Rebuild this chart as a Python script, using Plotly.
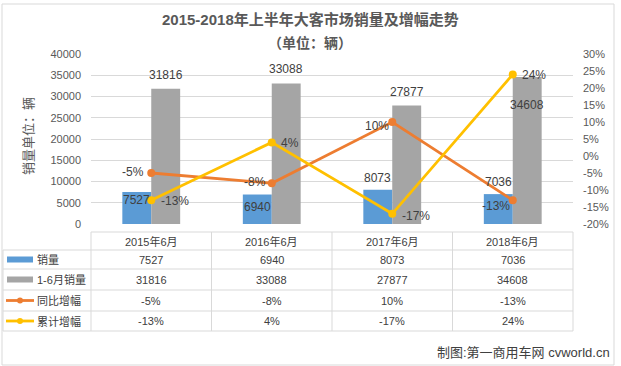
import plotly.graph_objects as go

# ---------------- data ----------------
categories = ["2015年6月", "2016年6月", "2017年6月", "2018年6月"]
sales_june = [7527, 6940, 8073, 7036]            # 销量
sales_h1 = [31816, 33088, 27877, 34608]          # 1-6月销量
yoy_growth = [-0.05, -0.08, 0.10, -0.13]          # 同比增幅
cum_growth = [-0.13, 0.04, -0.17, 0.24]           # 累计增幅
yoy_text = ["-5%", "-8%", "10%", "-13%"]
cum_text = ["-13%", "4%", "-17%", "24%"]
series_names = ["销量", "1-6月销量", "同比增幅", "累计增幅"]

left_ticks = [0, 5000, 10000, 15000, 20000, 25000, 30000, 35000, 40000]
left_ticktext = ["0", "5000", "10000", "15000", "20000", "25000", "30000", "35000", "40000"]
right_ticks = [-0.20, -0.15, -0.10, -0.05, 0.0, 0.05, 0.10, 0.15, 0.20, 0.25, 0.30]
right_ticktext = ["-20%", "-15%", "-10%", "-5%", "0%", "5%", "10%", "15%", "20%", "25%", "30%"]

title_text = "2015-2018年上半年大客市场销量及增幅走势"
subtitle_text = "（单位：辆）"
yaxis_title = "销量单位：辆"
source_text = "制图:第一商用车网 cvworld.cn"

# ---------------- style ----------------
BLUE = "#5B9BD5"
GRAY = "#A5A5A5"
ORANGE = "#ED7D31"
YELLOW = "#FFC000"
TXT = "#404040"
AX = "#595959"
GRID = "#D9D9D9"
FONT = "Liberation Sans, Noto Sans CJK SC, sans-serif"

W, H = 621, 366
L, R, T, B = 91, 48, 54, 142
PW = W - L - R
PH = H - T - B


def px_x(px):
    return (px - L) / PW


def px_y(py):
    return (H - B - py) / PH


fig = go.Figure()

fig.add_trace(go.Bar(x=categories, y=sales_june, name=series_names[0],
                     marker=dict(color=BLUE, line=dict(width=0)), yaxis="y"))
fig.add_trace(go.Bar(x=categories, y=sales_h1, name=series_names[1],
                     marker=dict(color=GRAY, line=dict(width=0)), yaxis="y"))
fig.add_trace(go.Scatter(x=categories, y=yoy_growth, name=series_names[2], mode="lines+markers",
                         line=dict(color=ORANGE, width=2.8), marker=dict(size=8, color=ORANGE),
                         yaxis="y2"))
fig.add_trace(go.Scatter(x=categories, y=cum_growth, name=series_names[3], mode="lines+markers",
                         line=dict(color=YELLOW, width=2.8), marker=dict(size=8, color=YELLOW),
                         yaxis="y2"))

annotations = []
lab_font = dict(family=FONT, size=12, color=TXT)


def ann(**kw):
    kw.setdefault("showarrow", False)
    kw.setdefault("xanchor", "center")
    kw.setdefault("yanchor", "middle")
    annotations.append(kw)


# bar labels (blue bar centre is ~14.5px left of category centre, gray ~14.5px right)
blue_yshift = [-8, -12, 12, 12]
gray_yshift = [14, 14, 14, -28]
for i, c in enumerate(categories):
    ann(x=c, y=sales_june[i], xref="x", yref="y", text=str(sales_june[i]),
        xshift=-14.5, yshift=blue_yshift[i], font=lab_font)
    ann(x=c, y=sales_h1[i], xref="x", yref="y", text=str(sales_h1[i]),
        xshift=14.5, yshift=gray_yshift[i], font=lab_font)

# line labels
yoy_shift = [(-18, 1), (-17, 1), (-15, -4), (-17, -6)]
cum_shift = [(24, -1), (18, -1), (24, -2), (21, -1)]
for i, c in enumerate(categories):
    ann(x=c, y=yoy_growth[i], xref="x", yref="y2", text=yoy_text[i],
        xshift=yoy_shift[i][0], yshift=yoy_shift[i][1], font=lab_font)
    ann(x=c, y=cum_growth[i], xref="x", yref="y2", text=cum_text[i],
        xshift=cum_shift[i][0], yshift=cum_shift[i][1], font=lab_font)

# titles
ann(x=px_x(310), y=px_y(19), xref="paper", yref="paper", text="<b>" + title_text + "</b>",
    font=dict(family=FONT, size=15, color=AX))
ann(x=px_x(310), y=px_y(43), xref="paper", yref="paper", text="<b>" + subtitle_text + "</b>",
    font=dict(family=FONT, size=14, color=AX))
ann(x=px_x(28), y=px_y(136), xref="paper", yref="paper", text=yaxis_title,
    textangle=-90, font=dict(family=FONT, size=13, color=AX))
ann(x=px_x(612), y=px_y(352), xref="paper", yref="paper", text=source_text,
    xanchor="right", font=dict(family=FONT, size=13, color=TXT))

# ---------------- data table ----------------
col_edges = [3, 91, 211.5, 332, 452.5, 573]
row_edges = [232, 250, 269, 290, 311, 331]
row_centres = [(row_edges[k] + row_edges[k + 1]) / 2 for k in range(5)]
tab_font = dict(family=FONT, size=11, color=TXT)

shapes = []
for k, ry in enumerate(row_edges):
    x0 = col_edges[1] if k == 0 else col_edges[0]
    shapes.append(dict(type="line", xref="paper", yref="paper", x0=px_x(x0), x1=px_x(col_edges[-1]),
                       y0=px_y(ry), y1=px_y(ry), line=dict(color=GRID, width=1)))
for k, cx in enumerate(col_edges):
    y0 = row_edges[1] if k == 0 else row_edges[0]
    shapes.append(dict(type="line", xref="paper", yref="paper", x0=px_x(cx), x1=px_x(cx),
                       y0=px_y(y0), y1=px_y(row_edges[-1]), line=dict(color=GRID, width=1)))

table_rows = [categories,
              [str(v) for v in sales_june],
              [str(v) for v in sales_h1],
              yoy_text,
              cum_text]
for r, vals in enumerate(table_rows):
    for i, c in enumerate(categories):
        ann(x=c, y=px_y(row_centres[r]), xref="x", yref="paper", text=vals[i], font=tab_font)

for s, name in enumerate(series_names):
    cy = row_centres[s + 1]
    if s < 2:
        shapes.append(dict(type="rect", xref="paper", yref="paper", x0=px_x(7), x1=px_x(33),
                           y0=px_y(cy + 3), y1=px_y(cy - 3), line=dict(width=0),
                           fillcolor=[BLUE, GRAY][s]))
    else:
        col = [ORANGE, YELLOW][s - 2]
        shapes.append(dict(type="line", xref="paper", yref="paper", x0=px_x(6), x1=px_x(34),
                           y0=px_y(cy), y1=px_y(cy), line=dict(color=col, width=2.8)))
        shapes.append(dict(type="circle", xref="paper", yref="paper", x0=px_x(17), x1=px_x(23),
                           y0=px_y(cy + 3), y1=px_y(cy - 3), line=dict(width=0), fillcolor=col))
    ann(x=px_x(35), y=px_y(cy), xref="paper", yref="paper", text=name,
        xanchor="left", font=dict(family=FONT, size=11, color=TXT))

# chart border
shapes.append(dict(type="rect", xref="paper", yref="paper", x0=px_x(2), x1=px_x(614),
                   y0=px_y(365), y1=px_y(4), line=dict(color=GRID, width=1)))

fig.update_layout(
    width=W, height=H,
    margin=dict(l=L, r=R, t=T, b=B),
    paper_bgcolor="white", plot_bgcolor="white",
    barmode="group", bargap=0.52, bargroupgap=0,
    showlegend=False,
    font=dict(family=FONT, color=AX),
    xaxis=dict(showticklabels=False, showgrid=False, zeroline=False, showline=False,
               range=[-0.5, 3.5], fixedrange=True),
    yaxis=dict(range=[0, 40000], tickvals=left_ticks, ticktext=left_ticktext,
               showgrid=True, gridcolor=GRID, gridwidth=1, zeroline=False, showline=False,
               ticks="", ticklabelstandoff=9, tickfont=dict(family=FONT, size=11, color=AX)),
    yaxis2=dict(range=[-0.2, 0.3], tickvals=right_ticks, ticktext=right_ticktext,
                overlaying="y", side="right", showgrid=False, zeroline=False, showline=False,
                ticks="", ticklabelstandoff=9, tickfont=dict(family=FONT, size=11, color=AX)),
    annotations=annotations,
    shapes=shapes,
)

fig.write_html("out.html", config={"displayModeBar": False},
               post_script="document.body.style.margin='0';document.body.style.overflow='hidden';")
